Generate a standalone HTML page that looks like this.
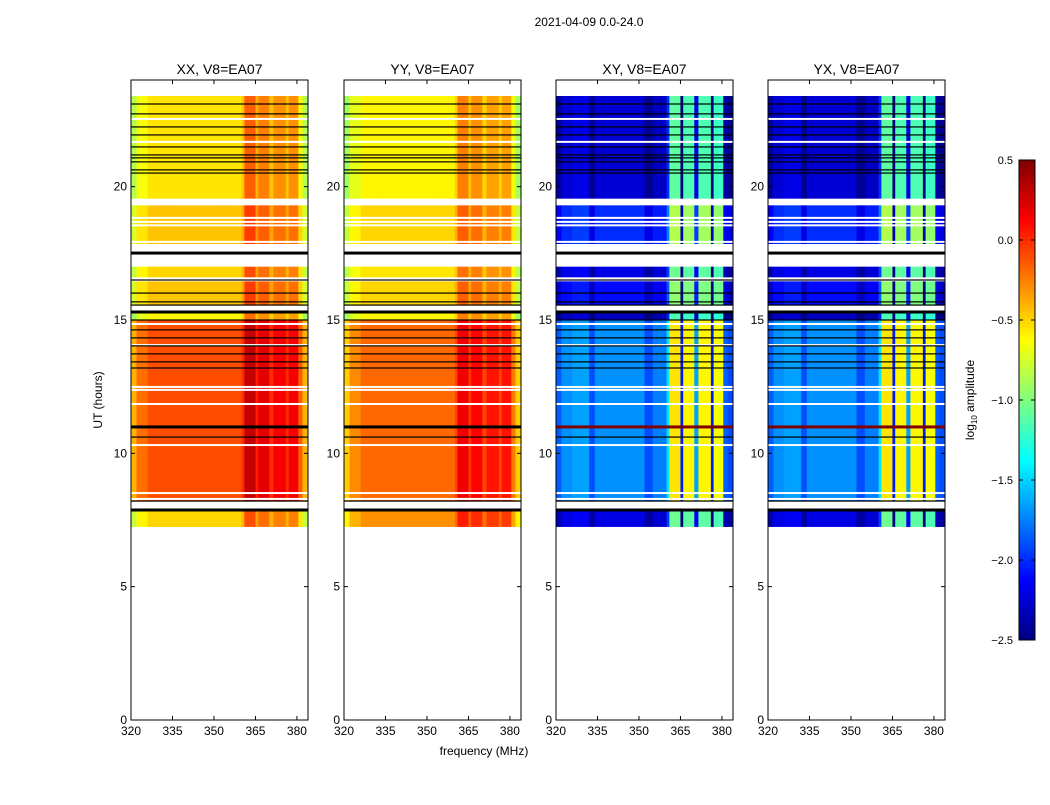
<!DOCTYPE html>
<html><head><meta charset="utf-8"><style>
body{margin:0;background:#fff;}
svg text{font-family:"Liberation Sans","DejaVu Sans",sans-serif;fill:#000;}
</style></head><body>
<svg id="fig" width="1050" height="800" viewBox="0 0 1050 800" xmlns="http://www.w3.org/2000/svg">
<rect width="1050" height="800" fill="#fff"/>
<text x="589" y="26" font-size="12" text-anchor="middle">2021-04-09 0.0-24.0</text>
<text x="484" y="755" font-size="12" text-anchor="middle">frequency (MHz)</text>
<text transform="translate(102,400) rotate(-90)" font-size="12" text-anchor="middle">UT (hours)</text>
<g id="panels"></g>
<g id="cbar"></g>
<text transform="translate(974,400) rotate(-90)" font-size="12" text-anchor="middle">log<tspan font-size="8" dy="3">10</tspan><tspan dy="-3"> amplitude</tspan></text>
</svg>
<script>
// ---- data ----
const panelTitles = ["XX, V8=EA07","YY, V8=EA07","XY, V8=EA07","YX, V8=EA07"];
const xTicks = [320,335,350,365,380];
const yTicks = [0,5,10,15,20];
const cbarTicks = [0.5,0.0,-0.5,-1.0,-1.5,-2.0,-2.5];
// time bands (hours)
const bandStart = [19.55,17.85,16.6,15.55,15.0,8.2,7.24];
const bandEnd   = [23.4,19.3,17.0,16.45,15.35,15.0,7.85];
// log10 amplitude per band per panel
const bandXX = [-0.55,-0.45,-0.5,-0.45,-0.6,-0.1,-0.5];
const bandYY = [-0.6,-0.5,-0.55,-0.5,-0.6,-0.18,-0.3];
const bandXY = [-2.3,-2.05,-2.25,-2.15,-2.35,-1.75,-2.25];
const bandYX = [-2.3,-2.05,-2.25,-2.15,-2.35,-1.75,-2.25];
// spectral segments (MHz) and offsets
const segStart = [320,322,326,332,334,352,355,360,361,365,366,370,371.5,376,377,380.5,382];
const segEnd   = [322,326,332,334,352,355,360,361,365,366,370,371.5,376,377,380.5,382,384];
const offXX = [-0.3,-0.1,0,0,0,0,0,0.1,0.4,0.15,0.3,0.1,0.25,0.1,0.25,-0.05,-0.3];
const offYY = [-0.3,-0.1,0,0,0,0,0,0.1,0.35,0.15,0.3,0.1,0.25,0.1,0.25,-0.05,-0.3];
const offXY = [-0.1,0.05,0.1,-0.15,0.05,-0.15,0,0.3,1.2,-0.3,1.15,0.1,1.15,-0.3,1.1,-0.1,-0.15];
const offYX = [-0.1,0.05,0.1,-0.15,0.05,-0.15,0,0.3,1.2,-0.3,1.15,0.1,1.15,-0.3,1.1,-0.1,-0.15];
// flagged / blank lines (hours)
const blackThick = [10.99,7.875,17.51,15.3];
const blackThin = [23.1,22.73,22.24,21.94,21.49,21.19,21.08,20.93,20.63,20.51,16.5,16.01,15.68,15.56,15.0,14.63,14.33,14.03,13.73,13.43,13.2,10.61,8.21];
const whiteLines = [22.54,21.68,18.83,18.68,18.55,17.93,14.85,14.06,12.49,12.38,11.85,10.31,8.51,8.29,8.05];

const panelX = [131,344,556,768], panelW = 177, plotTop = 80, plotBot = 720;
const xMin = 320, xMax = 384, yMin = 0, yMax = 24;
const vMin = -2.5, vMax = 0.5;
function jet(v){
  let t = (v - vMin)/(vMax - vMin); t = Math.max(0,Math.min(1,t));
  const r = Math.max(0,Math.min(1,1.5-Math.abs(4*t-3)));
  const g = Math.max(0,Math.min(1,1.5-Math.abs(4*t-2)));
  const b = Math.max(0,Math.min(1,1.5-Math.abs(4*t-1)));
  return `rgb(${Math.round(r*255)},${Math.round(g*255)},${Math.round(b*255)})`;
}
const NS = "http://www.w3.org/2000/svg";
function mk(tag, attrs, parent){ const e=document.createElementNS(NS,tag); for(const k in attrs) e.setAttribute(k,attrs[k]); parent.appendChild(e); return e; }
const panelsG = document.getElementById('panels');
const bands = [bandXX,bandYY,bandXY,bandYX];
const offs = [offXX,offYY,offXY,offYX];
panelTitles.forEach((title,p)=>{
  const x0 = panelX[p];
  const sx = f => x0 + (f - xMin)/(xMax - xMin)*panelW;
  const sy = h => plotBot - (h - yMin)/(yMax - yMin)*(plotBot - plotTop);
  const g = mk('g',{},panelsG);
  
  
  bandStart.forEach((bs,bi)=>{
    segStart.forEach((ss,si)=>{
      const v = bands[p][bi] + offs[p][si];
      const r = mk('rect',{x:sx(ss),y:sy(bandEnd[bi]),width:sx(segEnd[si])-sx(ss)+0.3,height:sy(bs)-sy(bandEnd[bi]),fill:jet(v)},g);
      
      
    });
  });
  whiteLines.forEach(h=>{ mk('rect',{x:x0,y:sy(h)-1,width:panelW,height:2,fill:'#fff'},g); });
  blackThin.forEach(h=>{ mk('rect',{x:x0,y:sy(h)-0.6,width:panelW,height:1.2,fill:'#000'},g); });
  blackThick.forEach((h,i)=>{
    const col = (p>=2 && i===0) ? '#800000' : '#000';
    mk('rect',{x:x0,y:sy(h)-1.5,width:panelW,height:3,fill:col},g);
  });
  mk('rect',{x:x0,y:plotTop,width:panelW,height:plotBot-plotTop,fill:'none',stroke:'#000','stroke-width':1},g);
  const t = mk('text',{x:x0+panelW/2,y:74,'font-size':14,'text-anchor':'middle'},g);
  t.textContent = title;
  
  
  xTicks.forEach(f=>{
    mk('line',{x1:sx(f),x2:sx(f),y1:plotBot,y2:plotBot-4,stroke:'#000'},g);
    mk('line',{x1:sx(f),x2:sx(f),y1:plotTop,y2:plotTop+4,stroke:'#000'},g);
    const l = mk('text',{x:sx(f),y:plotBot+15,'font-size':12,'text-anchor':'middle'},g);
    l.textContent = f;
    
    
  });
  yTicks.forEach(h=>{
    mk('line',{x1:x0,x2:x0+4,y1:sy(h),y2:sy(h),stroke:'#000'},g);
    mk('line',{x1:x0+panelW,x2:x0+panelW-4,y1:sy(h),y2:sy(h),stroke:'#000'},g);
    const l = mk('text',{x:x0-4,y:sy(h)+4,'font-size':12,'text-anchor':'end'},g);
    l.textContent = h;
    
    
  });
});
// colorbar
const cb = document.getElementById('cbar');
const cbX = 1019, cbW = 16, cbTop = 160, cbBot = 640;
const cy = v => cbBot - (v - vMin)/(vMax - vMin)*(cbBot - cbTop);
for(let i=0;i<120;i++){
  const v0 = vMin + i*(vMax-vMin)/120, v1 = vMin + (i+1)*(vMax-vMin)/120;
  mk('rect',{x:cbX,y:cy(v1),width:cbW,height:cy(v0)-cy(v1)+0.5,fill:jet((v0+v1)/2)},cb);
}
mk('rect',{x:cbX,y:cbTop,width:cbW,height:cbBot-cbTop,fill:'none',stroke:'#000'},cb);
cbarTicks.forEach(v=>{
  mk('line',{x1:cbX,x2:cbX+4,y1:cy(v),y2:cy(v),stroke:'#000'},cb);
  mk('line',{x1:cbX+cbW,x2:cbX+cbW-4,y1:cy(v),y2:cy(v),stroke:'#000'},cb);
  const l = mk('text',{x:1013,y:cy(v)+4,'font-size':11,'text-anchor':'end'},cb);
  l.textContent = v.toFixed(1).replace('-','\u2212');
  
  
});
</script>
</body></html>
